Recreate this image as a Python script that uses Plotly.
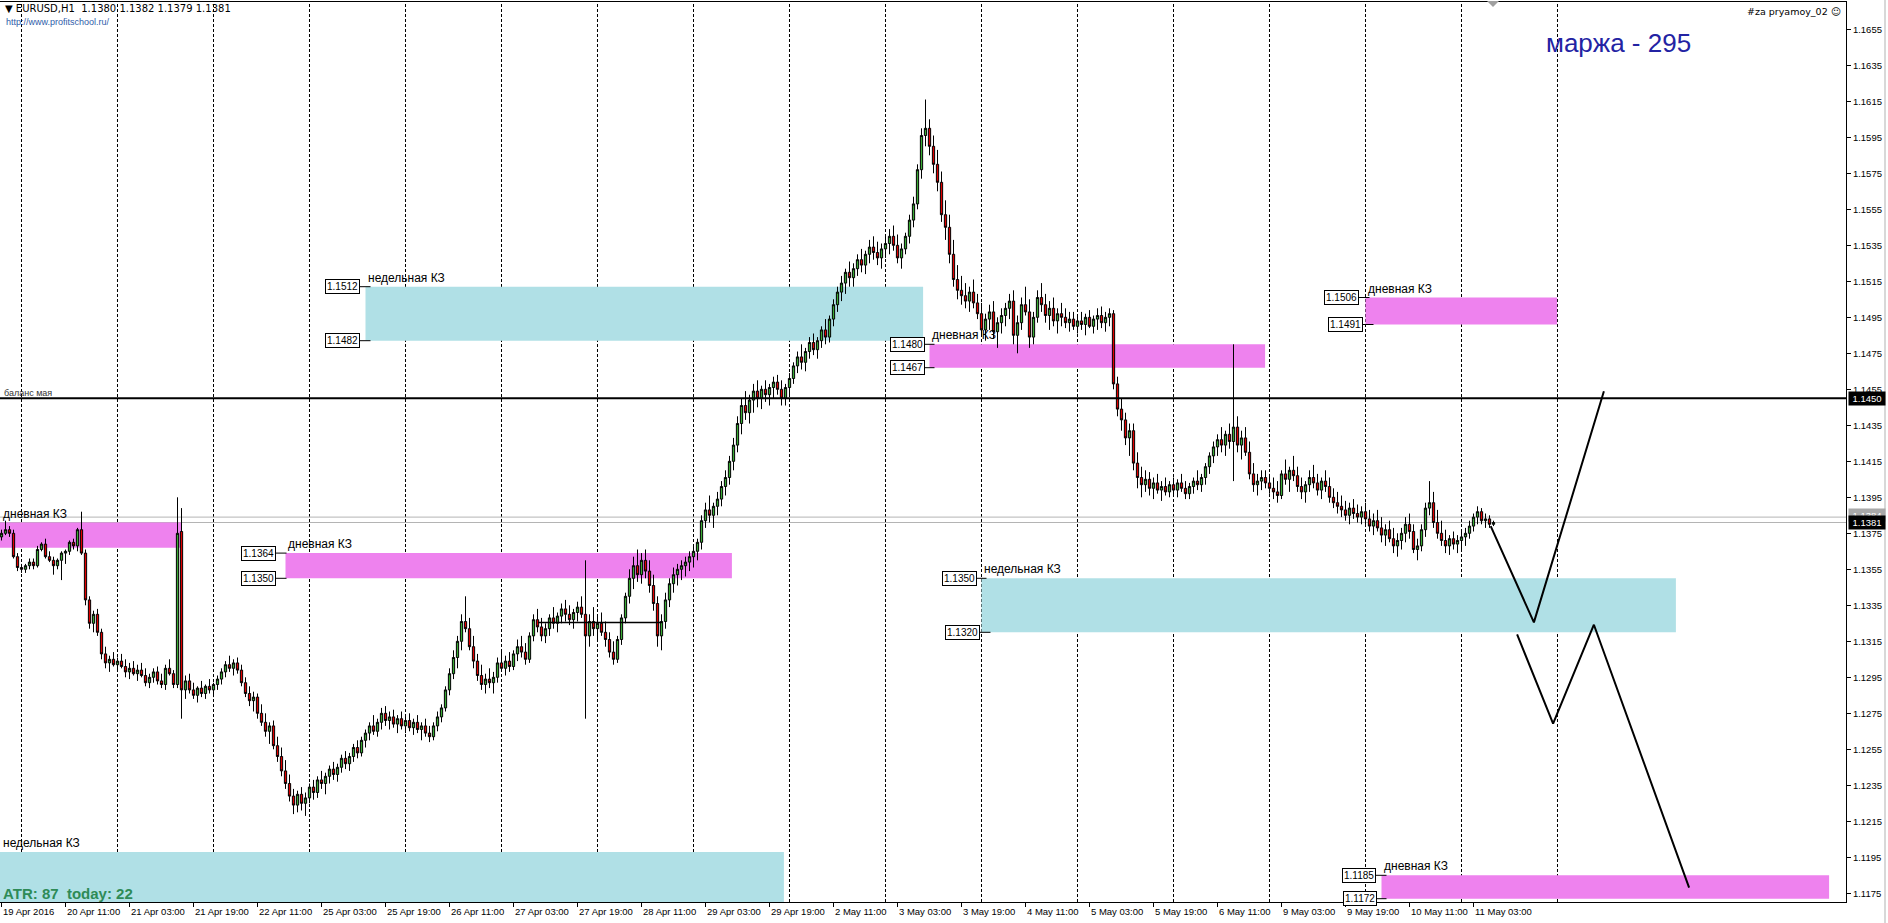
import plotly.graph_objects as go

# ---------------- data ----------------
BASE = 1.1000   # candle values are pips above 1.1000
PIP = 0.0001
# EURUSD H1, bar 0 = 19 Apr 2016 19:00 ... bar 373 = 11 May 2016 08:00
open_pips = (
    [373,375,377,375,362,356,355,357,359,357,366,369,362,360,357,360,364,365,370,368,377,364,338,325]
    + [330,320,308,303,305,302,304,301,298,300,297,299,296,292,295,298,293,291,300,297,291,376,288,293]
    + [288,285,289,286,290,288,291,294,298,302,300,303,299,292,286,282,284,275,270,265,268,257,251,243]
    + [236,229,224,230,225,228,234,231,238,236,240,244,241,245,250,247,251,256,253,260,264,268,265,270]
    + [275,271,273,269,272,268,271,267,270,266,268,264,262,268,273,278,288,297,306,315,326,322,312,304]
    + [296,291,294,292,295,303,300,304,301,308,312,309,305,318,327,323,318,322,328,325,329,333,330,327]
    + [331,334,330,318,326,322,325,320,316,309,305,316,328,340,350,357,352,360,354,346,336,318,326,338]
    + [347,352,355,357,359,362,365,370,382,388,385,390,394,401,406,415,424,436,446,442,449,454,450,455]
    + [452,456,459,455,450,456,461,468,473,470,476,481,477,482,488,484,494,502,509,514,520,517,522,527]
    + [524,530,534,531,528,533,536,540,535,528,533,540,549,558,577,596,600,590,580,570,552,545,530,516]
    + [510,507,504,509,503,497,488,494,498,487,492,496,500,504,485,492,502,498,484,495,506,502,496,500]
    + [493,497,495,492,494,490,493,491,495,490,494,496,492,495,497,458,444,438,428,432,414,406,402,405]
    + [400,403,399,401,398,402,399,403,400,397,401,404,402,406,412,418,423,427,424,430,426,434,424,428]
    + [420,408,402,404,406,403,400,398,396,408,405,410,407,401,398,402,406,403,399,404,401,395,392,390]
    + [388,385,389,386,384,387,383,379,382,378,374,377,372,368,371,375,380,376,366,368,377,389,392,381]
    + [375,371,368,372,369,371,373,375,379,384,387,382,383,380]
)
high_pips = (
    [377,382,379,377,364,358,358,361,361,368,370,372,365,362,361,365,366,371,372,378,387,366,340,332]
    + [333,322,312,307,309,306,308,305,303,304,302,303,300,297,300,301,297,302,305,299,395,389,296,297]
    + [292,290,293,291,294,292,296,300,304,307,305,306,302,295,290,287,286,280,275,270,271,262,256,249]
    + [241,233,232,234,231,236,238,240,243,242,246,248,247,252,254,253,258,260,262,266,270,274,272,278]
    + [279,276,277,274,276,273,275,272,274,270,272,268,270,276,280,290,300,310,318,330,340,328,318,308]
    + [302,297,300,298,306,310,307,309,310,316,318,314,320,330,333,328,325,330,334,331,336,338,335,333]
    + [337,340,360,330,334,330,331,326,320,315,318,330,342,355,362,366,364,366,360,352,340,330,342,350]
    + [356,358,360,362,365,368,372,385,392,396,392,398,404,410,418,428,440,450,454,452,458,460,457,460]
    + [458,462,463,460,458,464,470,476,480,478,484,486,484,490,494,496,505,512,518,522,526,525,530,533]
    + [532,538,540,537,536,540,544,546,541,536,542,552,562,580,600,616,605,596,588,576,560,552,538,524]
    + [518,514,512,516,508,503,497,502,504,495,500,503,508,510,496,506,512,505,498,510,514,508,504,506]
    + [500,503,500,498,498,496,498,497,499,496,500,501,498,500,499,462,450,442,436,436,420,412,410,409]
    + [406,408,404,406,404,406,405,408,404,403,406,410,408,414,420,426,430,434,432,436,480,440,432,434]
    + [426,414,408,410,410,408,406,404,410,416,412,418,412,406,404,410,413,408,406,410,406,400,398,396]
    + [393,392,394,391,390,392,388,386,388,384,380,382,378,375,378,384,386,380,372,380,392,404,398,388]
    + [382,377,374,376,374,376,378,382,386,390,389,386,385,382]
)
low_pips = (
    [371,374,373,361,354,353,353,355,355,356,365,361,359,352,355,349,358,363,366,365,363,335,322,320]
    + [318,305,300,298,301,298,300,295,294,296,293,295,290,289,292,291,289,288,296,289,289,272,283,286]
    + [283,281,284,283,286,284,288,291,295,298,296,297,290,284,279,276,272,268,262,258,255,248,240,233]
    + [226,219,220,221,218,225,227,228,233,230,236,238,237,242,244,243,248,250,251,256,260,263,262,266]
    + [268,266,267,264,266,264,265,263,264,260,262,259,260,265,270,276,285,294,300,310,320,310,300,293]
    + [288,286,289,286,292,298,296,298,299,304,306,302,303,315,320,315,314,318,322,320,325,326,324,322]
    + [326,328,272,312,318,316,318,312,306,302,303,313,325,336,344,348,347,350,342,332,312,310,322,334]
    + [342,346,349,351,354,356,360,366,378,381,378,385,390,396,402,410,420,430,438,436,442,445,444,448]
    + [446,450,452,446,446,452,458,464,466,465,472,474,472,478,480,481,490,498,504,508,512,512,518,520]
    + [519,525,527,524,522,528,530,532,525,522,530,536,545,555,572,590,585,575,565,548,538,525,512,505]
    + [502,500,498,500,494,485,482,488,483,478,486,490,494,480,475,488,496,478,480,492,498,492,488,490]
    + [486,490,489,487,488,486,488,485,489,486,488,489,487,490,455,440,432,424,418,410,400,395,398,396]
    + [394,397,393,396,395,396,395,398,394,394,397,399,398,402,408,414,418,420,418,422,404,420,416,418]
    + [405,398,396,399,400,397,394,392,394,402,398,404,398,394,392,398,400,396,394,398,392,389,386,384]
    + [382,380,383,381,380,380,376,374,376,370,368,370,364,362,366,370,372,364,360,365,373,385,378,372]
    + [368,364,363,366,364,366,368,372,376,380,380,378,378,379]
)
close_pips = (
    [375,377,375,362,356,355,357,359,357,366,369,362,360,357,360,364,365,370,368,377,364,338,325,330]
    + [320,308,303,305,302,304,301,298,300,297,299,296,292,295,298,293,291,300,297,291,375,288,293,288]
    + [285,289,286,290,288,291,294,298,302,300,303,299,292,286,282,284,275,270,265,268,257,251,243,236]
    + [229,224,230,225,228,234,231,238,236,240,244,241,245,250,247,251,256,253,260,264,268,265,270,275]
    + [271,273,269,272,268,271,267,270,266,268,264,262,268,273,278,288,297,306,315,326,322,312,304,296]
    + [291,294,292,295,303,300,304,301,308,312,309,305,318,327,323,318,322,328,325,329,333,330,327,331]
    + [334,330,318,326,322,325,320,316,309,305,316,328,340,350,357,352,360,354,346,336,318,326,338,347]
    + [352,355,357,359,362,365,370,382,388,385,390,394,401,406,415,424,436,446,442,449,454,450,455,452]
    + [456,459,455,450,456,461,468,473,470,476,481,477,482,488,484,494,502,509,514,520,517,522,527,524]
    + [530,534,531,528,533,536,540,535,528,533,540,549,558,577,596,600,590,580,570,552,545,530,516,510]
    + [507,504,509,503,497,488,494,498,487,492,496,500,504,485,492,502,498,484,495,506,502,496,500,493]
    + [497,495,492,494,490,493,491,495,490,494,496,492,495,497,458,444,438,428,432,414,406,402,405,400]
    + [403,399,401,398,402,399,403,400,397,401,404,402,406,412,418,423,427,424,430,426,434,424,428,420]
    + [408,402,404,406,403,400,398,396,408,405,410,407,401,398,402,406,403,399,404,401,395,392,390,388]
    + [385,389,386,384,387,383,379,382,378,374,377,372,368,371,375,380,376,366,368,377,389,392,381,375]
    + [371,368,372,369,371,373,375,379,384,387,382,383,380,381]
)

time_tick_bars = [0, 16, 32, 48, 64, 80, 96, 112, 128, 144, 160, 176, 192, 208, 224,
                  240, 256, 272, 288, 304, 320, 336, 352, 368]
time_tick_text = ["19 Apr 2016", "20 Apr 11:00", "21 Apr 03:00", "21 Apr 19:00", "22 Apr 11:00",
                  "25 Apr 03:00", "25 Apr 19:00", "26 Apr 11:00", "27 Apr 03:00", "27 Apr 19:00",
                  "28 Apr 11:00", "29 Apr 03:00", "29 Apr 19:00", "2 May 11:00", "3 May 03:00",
                  "3 May 19:00", "4 May 11:00", "5 May 03:00", "5 May 19:00", "6 May 11:00",
                  "9 May 03:00", "9 May 19:00", "10 May 11:00", "11 May 03:00"]
price_tick_text = ["1.1175", "1.1195", "1.1215", "1.1235", "1.1255", "1.1275", "1.1295",
                   "1.1315", "1.1335", "1.1355", "1.1375", "1.1395", "1.1415", "1.1435",
                   "1.1455", "1.1475", "1.1495", "1.1515", "1.1535", "1.1555", "1.1575",
                   "1.1595", "1.1615", "1.1635", "1.1655"]
day_separator_bars = [5, 29, 53, 77, 101, 125, 149, 173, 197, 221, 245, 269, 293, 317, 341, 365, 389]

# zones (KZ)
zone_name   = ["дневная КЗ", "недельная КЗ", "дневная КЗ", "недельная КЗ", "дневная КЗ",
               "дневная КЗ", "недельная КЗ", "дневная КЗ"]
zone_top    = [1.1381, 1.1512, 1.1364, 1.1350, 1.1480, 1.1506, 1.1198, 1.1185]
zone_bottom = [1.1367, 1.1482, 1.1350, 1.1320, 1.1467, 1.1491, 1.1168, 1.1172]
zone_start  = [-3.0, 91.0, 71.0, 245.0, 232.0, 341.0, -3.0, 345.0]
zone_end    = [44.9, 230.4, 182.6, 418.6, 315.9, 388.9, 195.6, 456.9]

balance_level = 1.1450
bid_price = 1.1381
ask_price = 1.1384

# drawn lines
path1_bars = [372.3, 383.1, 400.6]
path1_price = [1.1379, 1.13255, 1.14539]
path2_bars = [378.9, 387.9, 398.1, 421.9]
path2_price = [1.13188, 1.12693, 1.13242, 1.11782]
seg_bars = [134.1, 165.1]
seg_price = [1.13255, 1.13255]

# ---------------- layout constants ----------------
W, H = 1888, 923
ML, MR, MT, MB = 0, 42, 2, 21
PW, PH = W - ML - MR, H - MT - MB
PX_PER_BAR = 4.0
X0_PX = 1.5  # pixel of bar 0
x_range = [(0 - X0_PX) / PX_PER_BAR, (PW - X0_PX) / PX_PER_BAR]
y_range = [1.1655 - (902 - 29.3) / 18000.0, 1.1655 + (29.3 - 2) / 18000.0]

def px_x(px):
    return (px - ML) / PW

def px_y(py):
    return (H - MB - py) / PH

FONT = "Liberation Sans"
WEEK = "#B0E0E6"
DAY = "#EE82EE"

to_price = lambda arr: [round(BASE + v * PIP, 5) for v in arr]
bars = list(range(len(close_pips)))

fig = go.Figure()
fig.add_trace(go.Candlestick(
    x=bars, open=to_price(open_pips), high=to_price(high_pips),
    low=to_price(low_pips), close=to_price(close_pips),
    increasing=dict(fillcolor="#3AAA35", line=dict(color="black", width=1)),
    decreasing=dict(fillcolor="#E00000", line=dict(color="black", width=1)),
    whiskerwidth=0, hoverinfo="skip", showlegend=False))

for xs, ys in [(path1_bars, path1_price), (path2_bars, path2_price)]:
    fig.add_trace(go.Scatter(x=xs, y=ys, mode="lines", line=dict(color="black", width=2),
                             hoverinfo="skip", showlegend=False))
fig.add_trace(go.Scatter(x=seg_bars, y=seg_price, mode="lines", line=dict(color="black", width=1.5),
                         hoverinfo="skip", showlegend=False))

shapes = []
for name, top, bot, s, e in zip(zone_name, zone_top, zone_bottom, zone_start, zone_end):
    shapes.append(dict(type="rect", xref="x", yref="y", x0=s, x1=e, y0=bot, y1=top,
                       fillcolor=WEEK if name.startswith("нед") else DAY,
                       line=dict(width=0), layer="below"))
for b in day_separator_bars:
    shapes.append(dict(type="line", xref="x", yref="paper", x0=b, x1=b, y0=0, y1=1,
                       line=dict(color="black", width=1, dash="3px,2px"), layer="below"))
for p in (ask_price, bid_price):
    shapes.append(dict(type="line", xref="paper", yref="y", x0=0, x1=1, y0=p, y1=p,
                       line=dict(color="#B4B4B4", width=1), layer="below"))
shapes.append(dict(type="line", xref="paper", yref="y", x0=0, x1=1, y0=balance_level, y1=balance_level,
                   line=dict(color="black", width=2)))
shapes.append(dict(type="path", xref="paper", yref="paper",
                   path=f"M {px_x(1487)} {px_y(1)} L {px_x(1499)} {px_y(1)} L {px_x(1493)} {px_y(7)} Z",
                   fillcolor="#A0A0A0", line=dict(width=0)))
shapes.append(dict(type="line", xref="paper", yref="paper", x0=px_x(1885), x1=px_x(1885),
                   y0=px_y(923), y1=px_y(0), line=dict(color="#D8D8D8", width=2)))

annotations = []
def ann(text, xpx, ypx, size=10, color="black", xanchor="left", yanchor="middle", bold=False, family=FONT, **kw):
    d = dict(text=f"<b>{text}</b>" if bold else text, xref="paper", yref="paper",
             x=px_x(xpx), y=px_y(ypx), xanchor=xanchor, yanchor=yanchor, showarrow=False,
             font=dict(family=family, size=size, color=color))
    d.update(kw)
    annotations.append(d)

for name, top, s in zip(zone_name, zone_top, zone_start):
    if s < 0:
        annotations.append(dict(text=name, xref="paper", yref="y", x=px_x(1), y=top, xanchor="left",
                                yanchor="bottom", showarrow=False,
                                font=dict(family=FONT, size=12, color="black")))
    else:
        annotations.append(dict(text=name, xref="x", yref="y", x=s, y=top, xanchor="left",
                                yanchor="bottom", showarrow=False,
                                font=dict(family=FONT, size=12, color="black")))

tag_specs = [(1, 1.1512, 6, 5), (1, 1.1482, 6, 5), (2, 1.1364, 10, 1), (2, 1.1350, 10, 1),
             (3, 1.1350, 5, 5), (3, 1.1320, 2, 9), (4, 1.1480, 5, 5), (4, 1.1467, 5, 5),
             (5, 1.1506, 7, 4), (5, 1.1491, 3, 8), (7, 1.1185, 6, 5), (7, 1.1172, 5, 5)]
for zi, p, gap, ext in tag_specs:
    s = zone_start[zi]
    annotations.append(dict(text=f"{p:.4f}", xref="x", yref="y", x=s, y=p, xanchor="right",
                            yanchor="middle", xshift=-gap, showarrow=False, bgcolor="white",
                            bordercolor="black", borderwidth=1, borderpad=1,
                            font=dict(family=FONT, size=10, color="black")))
    shapes.append(dict(type="line", xref="x", yref="y", xsizemode="pixel", xanchor=s,
                       x0=-gap, x1=ext, y0=p, y1=p, line=dict(color="black", width=1)))

for b, t in zip(time_tick_bars, time_tick_text):
    annotations.append(dict(text=t, xref="x", yref="paper", x=b, y=0, xanchor="left", yanchor="top",
                            yshift=-2, xshift=-1, showarrow=False,
                            font=dict(family=FONT, size=9.5, color="black")))

annotations.append(dict(text=f"{ask_price:.4f}", xref="paper", yref="y", x=px_x(1848), y=ask_price + 0.00012,
                        xanchor="left", yanchor="middle", showarrow=False, bgcolor="#A8A8A8",
                        width=34, height=10, font=dict(family=FONT, size=9.5, color="white")))
for p in (balance_level, bid_price):
    annotations.append(dict(text=f"{p:.4f}", xref="paper", yref="y", x=px_x(1848), y=p,
                            xanchor="left", yanchor="middle", showarrow=False, bgcolor="black",
                            width=34, height=11, font=dict(family=FONT, size=9.5, color="white")))

ann("▼ EURUSD,H1\u00a0\u00a01.1380 1.1382 1.1379 1.1381", 3, 8, size=10, family="DejaVu Sans")
ann("http://www.profitschool.ru/", 4, 22, size=9, color="#2F5DAA")
ann("#za pryamoy_02 ☺", 1843, 11, size=9.5, xanchor="right", family="DejaVu Sans")
ann("маржа - 295", 1544, 43, size=26, color="#2323A3")
ann("баланс мая", 2, 393, size=9, color="#333333")
ann("ATR: 87\u00a0\u00a0today: 22", 1, 893, size=15, color="#2E8B57", bold=True)

fig.update_layout(
    width=W, height=H, margin=dict(l=ML, r=MR, t=MT, b=MB),
    paper_bgcolor="white", plot_bgcolor="white", showlegend=False, hovermode=False,
    boxgap=0.25, boxgroupgap=0.25,
    shapes=shapes, annotations=annotations,
    xaxis=dict(range=x_range, showgrid=False, zeroline=False, showline=True, mirror=True,
               linecolor="black", linewidth=1, ticks="outside", ticklen=4, tickcolor="black",
               tickvals=time_tick_bars, showticklabels=False, rangeslider=dict(visible=False),
               fixedrange=True),
    yaxis=dict(side="right", range=y_range, showgrid=False, zeroline=False, showline=True, mirror=True,
               linecolor="black", linewidth=1, ticks="outside", ticklen=4, tickcolor="black",
               tickvals=[float(t) for t in price_tick_text], ticktext=price_tick_text,
               tickfont=dict(family=FONT, size=9.5, color="black"), fixedrange=True),
)

fig.write_html("out.html", config={"staticPlot": True},
               post_script="document.body.style.margin='0';document.body.style.overflow='hidden';")
